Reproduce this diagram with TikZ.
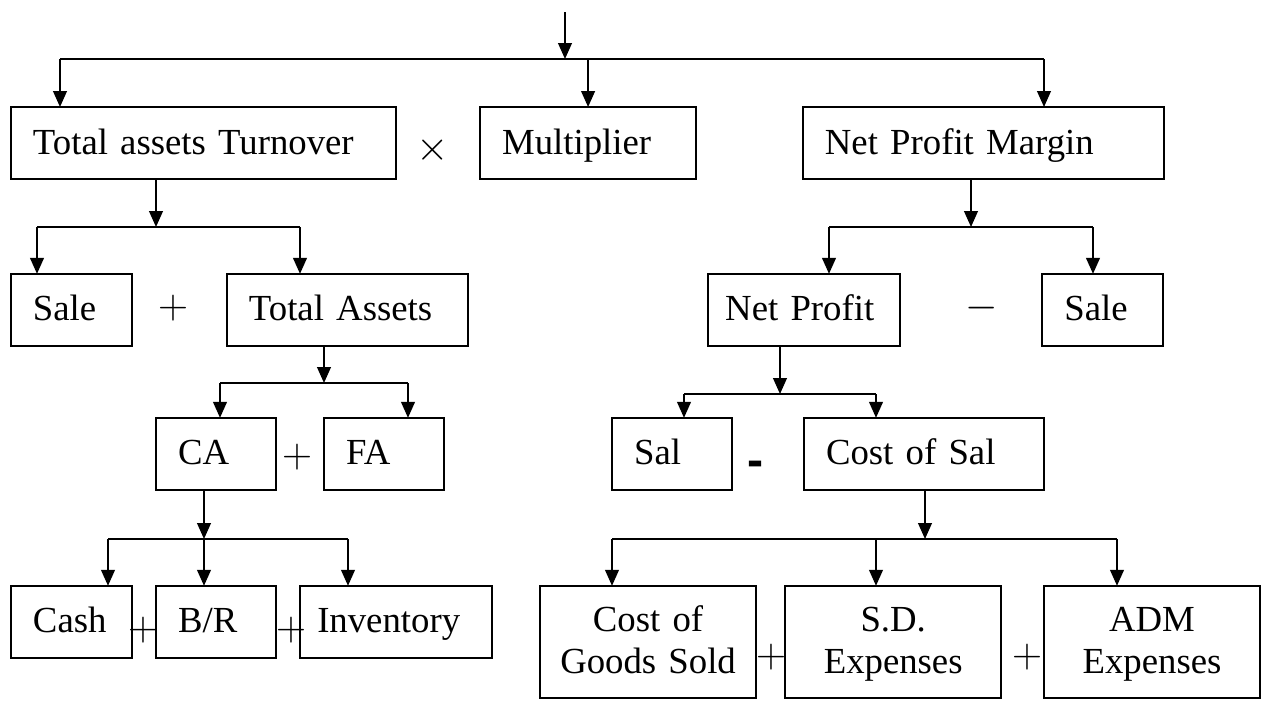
\documentclass[tikz,border=0pt]{standalone}
\usepackage{fontspec}
\setmainfont{Liberation Serif}
\setsansfont{Liberation Sans}
\usetikzlibrary{arrows.meta, positioning}

\begin{document}
\begin{tikzpicture}[
        x=0.0175cm, y=-0.0175cm,
        line width=0.035cm,
        box/.style={rectangle, draw, outer sep=0pt, minimum height=1.26cm, inner xsep=0.385cm, inner ysep=0pt, text width=#1, text height=14.5pt, text depth=3.5pt, align=left, font=\fontsize{18.3}{21}\selectfont},
        tallbox/.style={box=#1, minimum height=1.96cm, inner xsep=0.2cm, text depth=24.5pt, align=center},
        op/.style={inner sep=0pt, font=\fontsize{20}{24}\selectfont},
        arrow/.style={-{Triangle[length=0.28cm, width=0.24cm]}}
    ]
    \useasboundingbox (0,0) rectangle (1266,700);

    % Top row
    \node[box=5.97cm, anchor=north west] (tat) at (11,107) {Total assets Turnover};
    \node[box=3.01cm, right=1.47cm of tat] (mult) {Multiplier};
    \node[box=5.55cm, right=1.87cm of mult] (npm) {Net Profit Margin};

    % Second row
    \node[box=1.35cm, below=1.66cm of tat.south west, anchor=north west] (sale1) {Sale};
    \node[box=3.45cm, right=1.66cm of sale1] (tassets) {Total Assets};
    \node[box=2.59cm, right=4.2cm of tassets, inner xsep=0.3cm, text width=2.76cm] (nprofit) {Net Profit};
    \node[box=1.35cm, right=2.49cm of nprofit] (sale2) {Sale};

    % Third row
    \node[box=1.33cm, below=1.26cm of sale1.south west, anchor=north west, xshift=2.54cm] (ca) {CA};
    \node[box=1.33cm, right=0.84cm of ca] (fa) {FA};
    \node[box=1.33cm, right=2.94cm of fa] (sal) {Sal};
    \node[box=3.43cm, right=1.26cm of sal] (cos) {Cost of Sal};

    % Bottom row
    \node[box=1.35cm, below=1.68cm of ca.south west, anchor=north west, xshift=-2.54cm] (cash) {Cash};
    \node[box=1.33cm, right=0.42cm of cash] (br) {B/R};
    \node[box=2.59cm, right=0.42cm of br, inner xsep=0.3cm, text width=2.76cm] (inv) {Inventory};
    \node[tallbox=3.38cm, right=0.84cm of inv.north east, anchor=north west] (cogs) {Cost of\\Goods Sold};
    \node[tallbox=3.38cm, right=0.51cm of cogs] (sde) {S.D.\\Expenses};
    \node[tallbox=3.38cm, right=0.75cm of sde] (adm) {ADM\\Expenses};

    % Operators
    \node[op] (times) at (433,150) {$\times$};
    \node[op] (plusa) at (173,308) {$+$};
    \node[op] (minusa) at (982,308) {$-$};
    \node[op] (plusb) at (297,457) {$+$};
    \node[op, font=\sffamily\bfseries\fontsize{24}{24}\selectfont] (minusb) at (756,469) {-};
    \node[op] (plusc) at (143,630) {$+$};
    \node[op] (plusd) at (291,630) {$+$};
    \node[op] (pluse) at (771,657) {$+$};
    \node[op] (plusf) at (1027,657) {$+$};

    % Junctions
    \coordinate (start) at (565,12);
    \coordinate (j0) at (565,59);
    \coordinate (b0l) at (60,59);
    \coordinate (b0r) at (1044,59);
    \coordinate (j1) at (156,227);
    \coordinate (b1l) at (37,227);
    \coordinate (b1r) at (300,227);
    \coordinate (j2) at (971,227);
    \coordinate (b2l) at (829,227);
    \coordinate (b2r) at (1093,227);
    \coordinate (j3) at (324,383);
    \coordinate (b3l) at (220,383);
    \coordinate (b3r) at (408,383);
    \coordinate (j4) at (780,394);
    \coordinate (b4l) at (684,394);
    \coordinate (b4r) at (876,394);
    \coordinate (j5) at (204,539);
    \coordinate (b5l) at (108,539);
    \coordinate (b5r) at (348,539);
    \coordinate (j6) at (925,539);
    \coordinate (b6l) at (612,539);
    \coordinate (b6m) at (876,539);
    \coordinate (b6r) at (1117,539);

    % Arrows
    \draw[arrow] (start) -- (j0);
    \draw (b0l) -- (b0r);
    \draw[arrow] (b0l) -- (b0l |- tat.north);
    \draw[arrow] (mult.north |- b0l) -- (mult.north);
    \draw[arrow] (b0r) -- (b0r |- npm.north);

    \draw[arrow] (tat.south -| j1) -- (j1);
    \draw (b1l) -- (b1r);
    \draw[arrow] (b1l) -- (b1l |- sale1.north);
    \draw[arrow] (b1r) -- (b1r |- tassets.north);

    \draw[arrow] (npm.south -| j2) -- (j2);
    \draw (b2l) -- (b2r);
    \draw[arrow] (b2l) -- (b2l |- nprofit.north);
    \draw[arrow] (b2r) -- (b2r |- sale2.north);

    \draw[arrow] (tassets.south -| j3) -- (j3);
    \draw (b3l) -- (b3r);
    \draw[arrow] (b3l) -- (b3l |- ca.north);
    \draw[arrow] (b3r) -- (b3r |- fa.north);

    \draw[arrow] (nprofit.south -| j4) -- (j4);
    \draw (b4l) -- (b4r);
    \draw[arrow] (b4l) -- (b4l |- sal.north);
    \draw[arrow] (b4r) -- (b4r |- cos.north);

    \draw[arrow] (ca.south -| j5) -- (j5);
    \draw (b5l) -- (b5r);
    \draw[arrow] (b5l) -- (b5l |- cash.north);
    \draw[arrow] (j5) -- (j5 |- br.north);
    \draw[arrow] (b5r) -- (b5r |- inv.north);

    \draw[arrow] (cos.south -| j6) -- (j6);
    \draw (b6l) -- (b6r);
    \draw[arrow] (b6l) -- (b6l |- cogs.north);
    \draw[arrow] (b6m) -- (b6m |- sde.north);
    \draw[arrow] (b6r) -- (b6r |- adm.north);

\end{tikzpicture}
\end{document}
